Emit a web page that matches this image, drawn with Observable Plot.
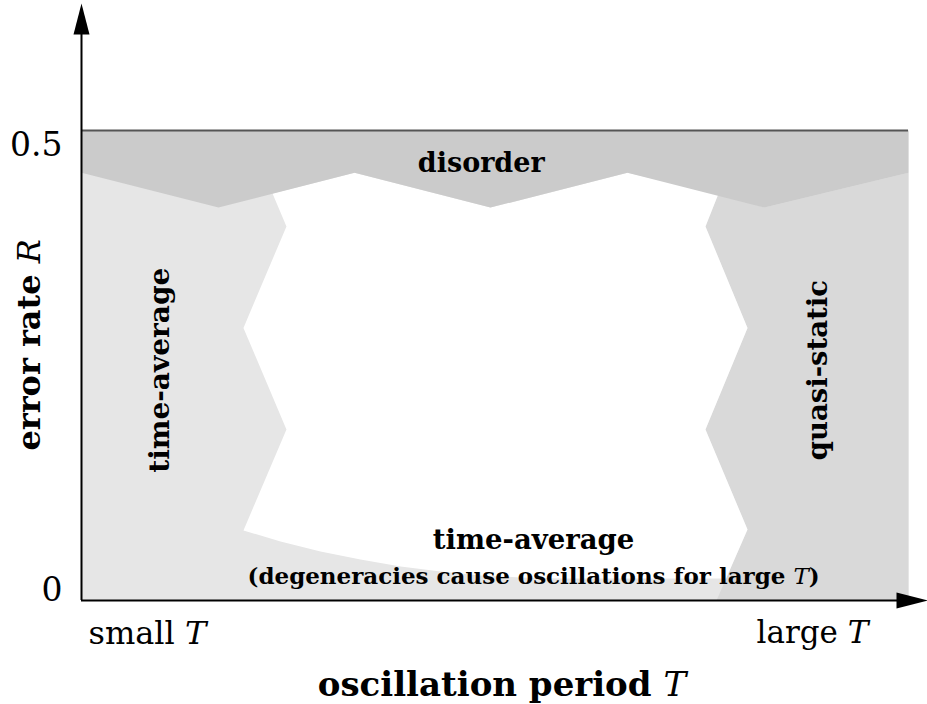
<!DOCTYPE html>
<html><head><meta charset="utf-8">
<script src="https://cdn.jsdelivr.net/npm/d3@7"></script>
<script src="https://cdn.jsdelivr.net/npm/@observablehq/plot@0.6"></script>
<style>body{margin:0;background:#fff}#chart{width:927px;height:704px}</style>
</head><body><div id="chart"></div>
<script>
// ---- data (schematic phase diagram: oscillation period T vs error rate R) ----
const Tmax = 6, Rmax = 0.5;
const axisTipT = 6.138, axisTipR = 0.635;
const disorderEdgeT = [0, 0.994, 1.981, 2.967, 3.961, 4.955, 6];
const disorderEdgeR = [0.455, 0.418, 0.455, 0.418, 0.455, 0.418, 0.455];
const leftEdgeT = [1.386, 1.487, 1.175, 1.487, 1.175];
const leftEdgeR = [0.433, 0.398, 0.290, 0.182, 0.0745];
const bottomCurveT = [1.175, 1.444, 1.734, 2.024, 2.315, 2.605, 2.895, 3.185, 3.476];
const bottomCurveR = [0.0745, 0.0628, 0.0521, 0.0436, 0.0362, 0.0309, 0.0266, 0.0245, 0.0234];
const rightEdgeT = [4.622, 4.527, 4.832, 4.527, 4.832, 4.607];
const rightEdgeR = [0.433, 0.398, 0.290, 0.182, 0.0755, 0];
const bandR = 0.0234;
const yTicks = [0, 0.5];
const yTickLabels = ["0", "0.5"];
const xEndLabels = ["small *T*", "large *T*"];
const regionLabels = ["disorder", "time-average", "quasi-static", "time-average",
  "(degeneracies cause oscillations for large *T*)"];
const axisTitles = ["oscillation period *T*", "error rate *R*"];

// ---- build polygons from the arrays ----
const pts = (T, R) => T.map((t, i) => ({t, r: R[i]}));
const disorderEdge = pts(disorderEdgeT, disorderEdgeR);
const leftEdge = pts(leftEdgeT, leftEdgeR);
const bottomCurve = pts(bottomCurveT, bottomCurveR);
const rightEdge = pts(rightEdgeT, rightEdgeR);
const n = rightEdge.length;
const a = rightEdge[n - 2], b = rightEdge[n - 1];
const bandT = b.t + (bandR - b.r) / (a.r - b.r) * (a.t - b.t);

const background = [{t: 0, r: 0}, {t: Tmax, r: 0}, {t: Tmax, r: Rmax}, {t: 0, r: Rmax}];
const disorderPoly = [{t: 0, r: Rmax}, {t: Tmax, r: Rmax}, ...disorderEdge.slice().reverse()];
const quasiPoly = [...rightEdge, {t: Tmax, r: 0}, ...disorderEdge.filter(d => d.t > rightEdge[0].t).reverse()];
const whitePoly = [
  ...leftEdge,
  ...bottomCurve.slice(1),
  {t: bandT, r: bandR},
  ...rightEdge.slice(0, n - 1).reverse(),
  ...disorderEdge.filter(d => d.t > leftEdge[0].t && d.t < rightEdge[0].t).reverse()
];

const arrowSymbol = {draw(ctx) { ctx.moveTo(0, 0); ctx.lineTo(-8, 31); ctx.lineTo(8, 31); ctx.closePath(); }};
const F = "DejaVu Serif";

const poly = (data, fill) => Plot.line(data, {x: "t", y: "r", fill, stroke: "none", curve: "linear"});

const chart = Plot.plot({
  width: 927, height: 704,
  marginLeft: 81, marginRight: 19, marginTop: 130, marginBottom: 104,
  x: {domain: [0, Tmax], axis: null},
  y: {domain: [0, Rmax], axis: null},
  style: {fontFamily: F, background: "#fff", color: "#000"},
  marks: [
    poly(background, "#e6e6e6"),
    poly(quasiPoly, "#d9d9d9"),
    poly(whitePoly, "#ffffff"),
    poly(disorderPoly, "#cbcbcb"),
    Plot.ruleY([Rmax], {x1: 0, x2: Tmax, stroke: "#555", strokeWidth: 2}),
    Plot.ruleX([0], {y1: 0, y2: axisTipR - 0.02, stroke: "#000", strokeWidth: 2}),
    Plot.ruleY([0], {x1: 0, x2: axisTipT - 0.1, stroke: "#000", strokeWidth: 2}),
    Plot.dot([{t: 0, r: axisTipR, rot: 0}, {t: axisTipT, r: 0, rot: 90}],
      {x: "t", y: "r", rotate: "rot", symbol: arrowSymbol, fill: "#000", stroke: "none"}),
    // tick labels
    Plot.text([yTicks[1]], {x: 0, y: d => d, text: () => yTickLabels[1], textAnchor: "end", dx: -19, dy: 15, fontSize: 33}),
    Plot.text([yTicks[0]], {x: 0, y: d => d, text: () => yTickLabels[0], textAnchor: "end", dx: -19, dy: -10, fontSize: 33}),
    Plot.text([xEndLabels[0]], {x: 0, y: 0, text: d => d, textAnchor: "start", dx: 7, dy: 33, fontSize: 32}),
    Plot.text([xEndLabels[1]], {x: Tmax, y: 0, text: d => d, textAnchor: "end", dx: -40, dy: 33, fontSize: 31}),
    // region labels
    Plot.text([regionLabels[0]], {x: 2.9, y: 0.465, text: d => d, fontWeight: "bold", fontSize: 27}),
    Plot.text([regionLabels[1]], {x: 0.573, y: 0.245, text: d => d, rotate: -90, fontWeight: "bold", fontSize: 28}),
    Plot.text([regionLabels[2]], {x: 5.347, y: 0.245, text: d => d, rotate: -90, fontWeight: "bold", fontSize: 27.5}),
    Plot.text([regionLabels[3]], {x: 3.28, y: 0.064, text: d => d, fontWeight: "bold", fontSize: 27.5}),
    Plot.text([regionLabels[4]], {x: 3.28, y: 0.0255, text: d => d, fontWeight: "bold", fontSize: 23}),
    // axis titles
    Plot.text([axisTitles[0]], {x: 3.05, y: -0.09, text: d => d, fontWeight: "bold", fontSize: 34}),
    Plot.text([axisTitles[1]], {x: 0, y: 0.272, text: d => d, rotate: -90, dx: -52, fontWeight: "bold", fontSize: 32})
  ]
});

// render *...* segments as math italic (non-bold) via tspans
d3.select(chart).selectAll("text").each(function() {
  const s = this.textContent;
  if (!s.includes("*")) return;
  const el = d3.select(this);
  el.text(null);
  s.split("*").forEach((part, i) => {
    if (!part) return;
    const ts = el.append("tspan").text(part);
    if (i % 2 === 1) ts.attr("font-style", "italic").attr("font-weight", "normal");
  });
});

document.getElementById("chart").appendChild(chart);
</script>
</body></html>
